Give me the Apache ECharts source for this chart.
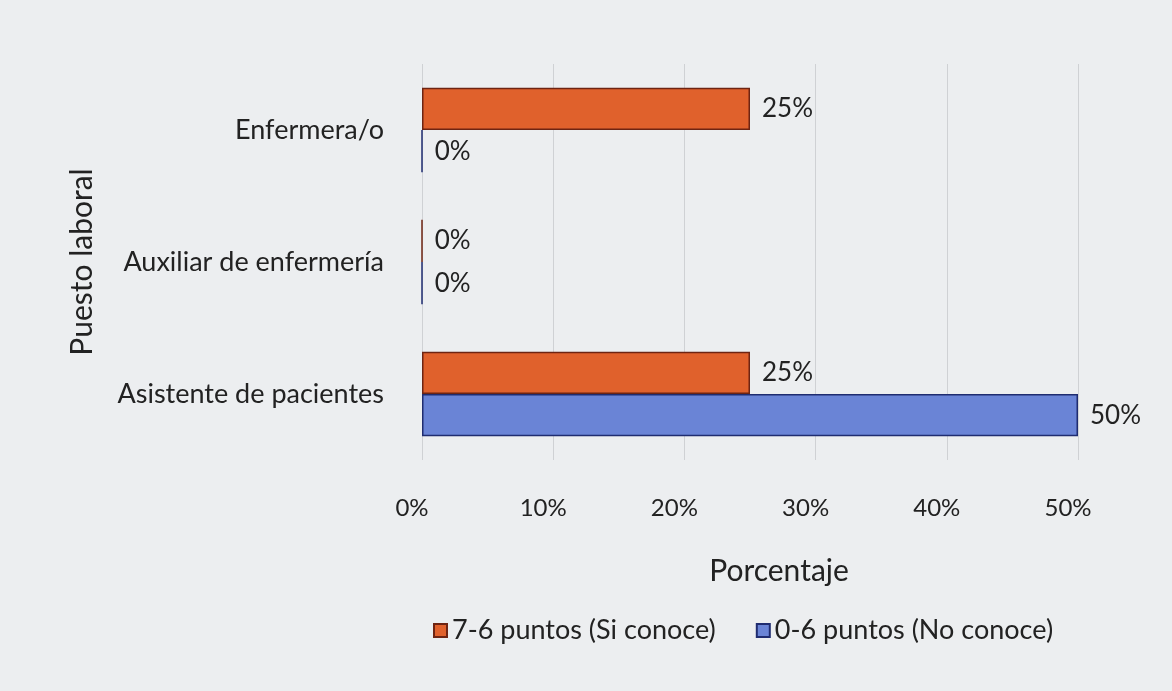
<!DOCTYPE html>
<html><head><meta charset="utf-8">
<script src="https://cdn.jsdelivr.net/npm/echarts@6/dist/echarts.min.js"></script>
<style>html,body{margin:0;padding:0;background:#eceef0;}#c{width:1172px;height:691px;}</style>
</head><body><div id="c"></div>
<script>
const categories = ['Enfermera/o', 'Auxiliar de enfermería', 'Asistente de pacientes'];
const seriesNames = ['7-6 puntos (Si conoce)', '0-6 puntos (No conoce)'];
const siConoce = [25, 0, 25];
const noConoce = [0, 0, 50];
const xTicks = [0, 10, 20, 30, 40, 50];

const font = 'Lato, "Open Sans", sans-serif';
const chart = echarts.init(document.getElementById('c'));
chart.setOption({
  backgroundColor: '#eceef0',
  textStyle: { fontFamily: font },
  grid: { left: 422, right: 94, top: 64, bottom: 231 },
  legend: {
    bottom: 42, left: 428, itemWidth: 13, itemHeight: 13, itemGap: 40,
    icon: 'rect',
    textStyle: { fontSize: 27, color: '#222', fontFamily: font },
    data: seriesNames
  },
  xAxis: {
    type: 'value', min: xTicks[0], max: xTicks[xTicks.length - 1], interval: 10,
    name: 'Porcentaje', nameLocation: 'middle', nameGap: 96,
    nameTextStyle: { fontSize: 30, color: '#222', fontFamily: font, padding: [0, 0, 0, 58] },
    axisLine: { show: false }, axisTick: { show: false },
    axisLabel: { formatter: '{value}%', fontSize: 24, color: '#222', margin: 36, padding: [0, 20, 0, 0], fontFamily: font },
    splitLine: { show: true, lineStyle: { color: '#cfd1d4', width: 1 } }
  },
  yAxis: {
    type: 'category', data: categories, inverse: true,
    name: 'Puesto laboral', nameLocation: 'middle', nameGap: 325, nameRotate: 90,
    nameTextStyle: { fontSize: 30, color: '#222', fontFamily: font },
    axisLine: { show: false }, axisTick: { show: false },
    axisLabel: { fontSize: 27, color: '#222', margin: 38, fontFamily: font }
  },
  series: [
    {
      name: seriesNames[0], type: 'bar', data: siConoce,
      barGap: '0%', barCategoryGap: '36%',
      itemStyle: { color: '#e0612c', borderColor: '#6e2412', borderWidth: 1.5 },
      label: { show: true, position: 'right', formatter: '{c}%', fontSize: 26, color: '#222', distance: 12, fontFamily: font }
    },
    {
      name: seriesNames[1], type: 'bar', data: noConoce,
      itemStyle: { color: '#6a84d6', borderColor: '#1f2c70', borderWidth: 1.5 },
      label: { show: true, position: 'right', formatter: '{c}%', fontSize: 26, color: '#222', distance: 12, fontFamily: font }
    }
  ]
});
</script></body></html>
